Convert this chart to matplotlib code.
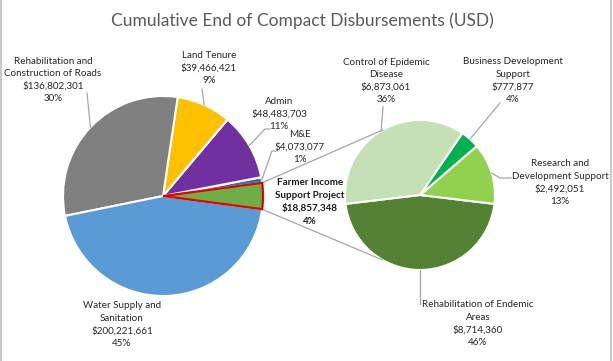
import numpy as np
import matplotlib
matplotlib.use("Agg")
import matplotlib.pyplot as plt

# ---- data ----
main_labels = ["Farmer Income\nSupport Project", "M&E", "Admin", "Land Tenure",
               "Rehabilitation and\nConstruction of Roads", "Water Supply and\nSanitation"]
main_values = [18857348, 4073077, 48483703, 39466421, 136802301, 200221661]
main_pcts = ["4%", "1%", "11%", "9%", "30%", "45%"]
main_colors = ["#70AD47", "#2E75B6", "#7030A0", "#FFC000", "#808080", "#5B9BD5"]

sub_labels = ["Rehabilitation of Endemic\nAreas", "Research and\nDevelopment Support",
              "Business Development\nSupport", "Control of Epidemic\nDisease"]
sub_values = [8714360, 2492051, 777877, 6873061]
sub_pcts = ["46%", "13%", "4%", "36%"]
sub_colors = ["#548235", "#92D050", "#00B050", "#C5E0B4"]

title = "Cumulative End of Compact Disbursements (USD)"

W, H = 613, 361
plt.rcParams['font.family'] = ['Lato', 'DejaVu Sans']
fig = plt.figure(figsize=(W / 100, H / 100), dpi=100)
ax = fig.add_axes([0, 0, 1, 1])

def Y(y):  # image y (top-down) -> data y (bottom-up)
    return H - y

c1, r1 = (163, Y(196)), 100
c2, r2 = (420, Y(195)), 75

tot = sum(main_values)
farmer_deg = main_values[0] / tot * 360
start1 = -farmer_deg / 2
w1, _ = ax.pie(main_values, colors=main_colors, startangle=start1, center=c1, radius=r1,
               counterclock=True, wedgeprops=dict(edgecolor="white", linewidth=1.5))
w1[0].set_edgecolor("#E00000")
w1[0].set_linewidth(1.6)
w1[0].set_zorder(5)

subtot = sum(sub_values)
rehab_deg = sub_values[0] / subtot * 360
start2 = -90 - rehab_deg / 2
w2, _ = ax.pie(sub_values, colors=sub_colors, startangle=start2, center=c2, radius=r2,
               counterclock=True, wedgeprops=dict(edgecolor="white", linewidth=1.5))

ax.set_xlim(0, W)
ax.set_ylim(0, H)
ax.set_aspect("equal")
ax.axis("off")

def edge_pt(c, r, ang):
    a = np.deg2rad(ang)
    return c[0] + r * np.cos(a), c[1] + r * np.sin(a)

def mid(w):
    return (w.theta1 + w.theta2) / 2

lc = "#A6A6A6"
# series lines
for s in (1, -1):
    p1 = edge_pt(c1, r1, s * farmer_deg / 2)
    p2 = edge_pt(c2, r2, s * 120)
    ax.plot([p1[0], p2[0]], [p1[1], p2[1]], color=lc, lw=0.9, zorder=1)

# leader lines (ends in image coordinates)
leaders1 = {1: [(272, 151), (277, 151)], 2: [(265, 129), (270, 129)], 3: [(202, 89)],
            4: [(87, 93)]}
for i, pts in leaders1.items():
    p = edge_pt(c1, r1, mid(w1[i]))
    xs = [p[0]] + [q[0] for q in pts]
    ys = [p[1]] + [Y(q[1]) for q in pts]
    ax.plot(xs, ys, color=lc, lw=0.9, zorder=1)
leaders2 = {0: [(420, 304)], 1: [(500, 178), (511, 178)], 2: [(500, 103)], 3: [(383, 107)]}
for i, pts in leaders2.items():
    p = edge_pt(c2, r2, mid(w2[i]))
    xs = [p[0]] + [q[0] for q in pts]
    ys = [p[1]] + [Y(q[1]) for q in pts]
    ax.plot(xs, ys, color=lc, lw=0.9, zorder=1)

tc = "#262626"
fs = 7.1
ls = 1.5
main_pos = [(310, 202), (300, 147), (279, 114), (209, 68), (53, 80), (122, 324.5)]
for lab, v, pc, (x, y), i in zip(main_labels, main_values, main_pcts, main_pos, range(6)):
    ax.text(x, Y(y), f"{lab}\n${v:,}\n{pc}", ha="center", va="center", fontsize=fs,
            color=tc if i else "#1a1a1a", fontweight="bold" if i == 0 else "normal",
            linespacing=ls, zorder=6)
sub_pos = [(478, 323.5), (560, 182.5), (513, 80.5), (386, 81)]
for lab, v, pc, (x, y) in zip(sub_labels, sub_values, sub_pcts, sub_pos):
    ax.text(x, Y(y), f"{lab}\n${v:,}\n{pc}", ha="center", va="center", fontsize=fs,
            color=tc, linespacing=ls, zorder=6)

ax.text(302, Y(21), title, ha="center", va="center", fontsize=12.5, color="#595959")

# chart border sides
ax.plot([0.8, 0.8], [0, H], color="#BFBFBF", lw=1.2, clip_on=False)
ax.plot([611, 611], [0, H], color="#BFBFBF", lw=1.2, clip_on=False)

fig.savefig("out.png", dpi=100)
